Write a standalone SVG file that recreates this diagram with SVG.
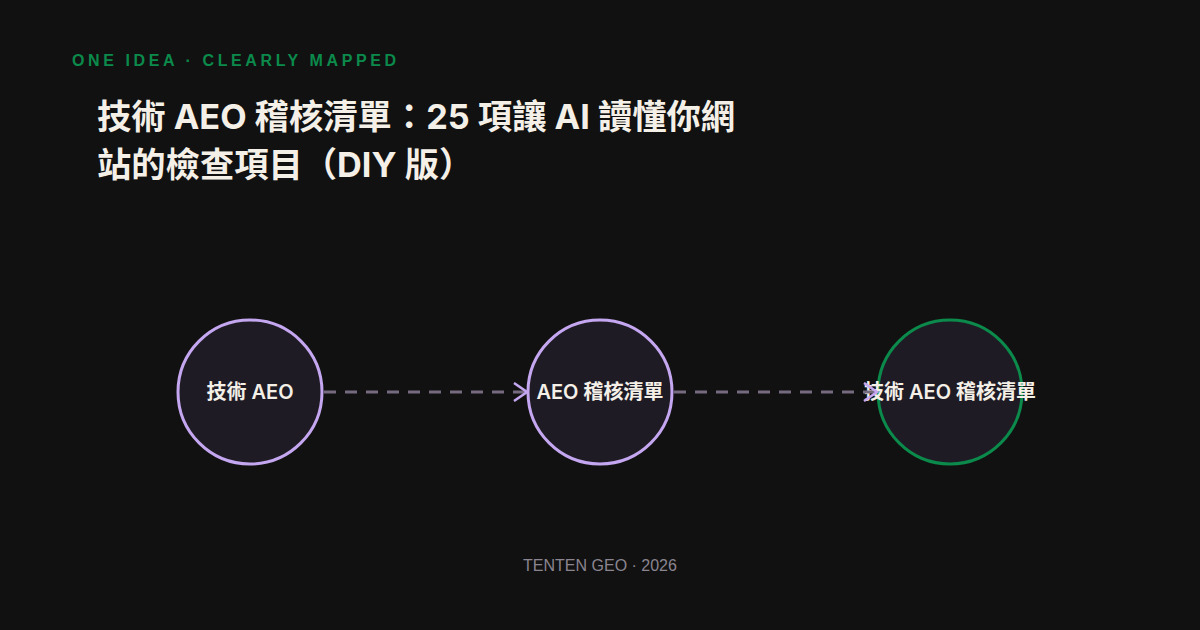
<svg xmlns="http://www.w3.org/2000/svg" width="1200" height="630" viewBox="0 0 1200 630">
<style>
.kicker{font-family:"Liberation Sans",Arial,sans-serif;font-weight:700;font-size:16px;letter-spacing:3.6px;fill:#0b8a4b}
.title{font-family:Inter,"Noto Sans CJK TC",sans-serif;font-weight:700;font-size:34.3px;fill:#f4f0e8}
.lbl{font-family:Inter,"Noto Sans CJK TC",sans-serif;font-weight:600;font-size:20px;fill:#f4f0e8}
.foot{font-family:"Liberation Sans",Arial,sans-serif;font-size:16px;fill:#8a8590}
.node{fill:#1e1b24;stroke-width:3}
.edge{stroke:#766a80;stroke-width:3;stroke-dasharray:12 9;fill:none}
</style>
<defs>
<marker id="arr" markerWidth="16" markerHeight="20" refX="14" refY="10" orient="auto" markerUnits="userSpaceOnUse">
<path d="M1,1 L14,10 L1,19" fill="none" stroke="#c4a7f0" stroke-width="2.5"/>
</marker>
</defs>
<rect width="1200" height="630" fill="#111111"/>
<text class="kicker" x="72" y="66">ONE IDEA · CLEARLY MAPPED</text>
<text class="title" x="97" y="129">技術 AEO 稽核清單：25 項讓 AI 讀懂你網</text>
<text class="title" x="97" y="177">站的檢查項目（DIY 版）</text>
<g id="node1">
<circle class="node" cx="250" cy="392" r="72" stroke="#c4a7f0"/>
<text class="lbl" x="250" y="399" text-anchor="middle">技術 AEO</text>
</g>
<g id="node2">
<circle class="node" cx="600" cy="392" r="72" stroke="#c4a7f0"/>
<text class="lbl" x="600" y="399" text-anchor="middle">AEO 稽核清單</text>
</g>
<g id="node3">
<circle class="node" cx="950" cy="392" r="72" stroke="#0b8a4b"/>
<text class="lbl" x="950" y="399" text-anchor="middle">技術 AEO 稽核清單</text>
</g>
<g id="connectors">
<line class="edge" x1="324" y1="392" x2="527" y2="392" marker-end="url(#arr)"/>
<line class="edge" x1="674" y1="392" x2="877" y2="392" marker-end="url(#arr)"/>
</g>
<text class="foot" x="600" y="571" text-anchor="middle">TENTEN GEO · 2026</text>
</svg>
